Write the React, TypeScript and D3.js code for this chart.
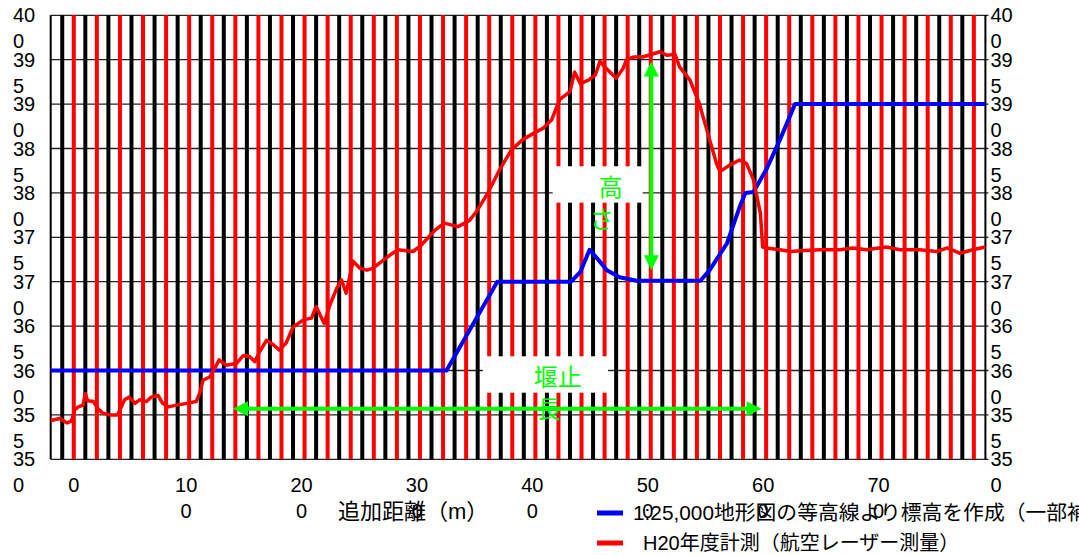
import * as d3 from 'd3';

const W = 1079;
const H = 555;

// axis ticks
const yTickValues = [350, 355, 360, 365, 370, 375, 380, 385, 390, 395, 400];
const xTickValues = [0, 100, 200, 300, 400, 500, 600, 700];

// 1:25,000 contour profile (distance m, elevation m)
const contourDist = [-20, 323, 367, 431, 439, 447, 455, 462, 473, 488, 543, 551, 566, 577, 582, 589, 600, 612, 625, 790];
const contourElev = [360, 360, 370, 370, 371.1, 373.6, 372.4, 371.3, 370.5, 370.1, 370.1, 371.3, 374.3, 378.4, 380, 380.1, 382.6, 386, 390, 390];

// H20 laser survey profile (distance m, elevation m)
const laserDist = [
  -19, -12, -6, -2, 1, 4, 8, 10, 12, 17, 21, 25, 31, 38, 44, 48, 53, 57, 63, 67,
  73, 77, 82, 89, 98, 106, 109, 112, 118, 122, 126, 132, 141, 147, 152, 157, 161, 167, 173, 178,
  184, 190, 199, 206, 210, 217, 222, 228, 232, 236, 242, 248, 254, 259, 265, 274, 281, 294, 301, 313,
  321, 333, 343, 349, 358, 369, 379, 389, 401, 407, 414, 421, 430, 434, 439, 446, 452, 456, 460, 470,
  476, 479, 485, 493, 508, 514, 521, 525, 534, 542, 551, 557, 560, 568, 577, 583, 589, 595, 597, 600,
  612, 621, 633, 647, 664, 675, 687, 704, 716, 733, 748, 757, 768, 779, 790,
];
const laserElev = [
  354.4, 354.6, 354.1, 354.3, 355.6, 355.9, 356.1, 357.4, 356.6, 356.5, 355.7, 355.2, 355.0, 355.0, 356.7, 357.0, 356.3, 356.7, 356.5, 357.0,
  357.2, 356.3, 355.9, 356.1, 356.3, 356.5, 357.4, 358.9, 359.3, 360.2, 361.2, 360.6, 360.8, 361.7, 361.6, 361.0, 362.1, 363.4, 362.9, 362.3,
  363.1, 364.9, 365.7, 365.9, 367.2, 365.3, 367.4, 369.3, 370.2, 368.7, 372.3, 371.5, 371.3, 371.5, 372.1, 373.0, 373.6, 373.4, 374.1, 375.8,
  376.6, 376.2, 376.9, 377.9, 379.8, 382.6, 384.8, 386.0, 386.9, 387.3, 388.2, 390.5, 391.4, 393.6, 392.3, 392.7, 393.3, 394.8, 394.2, 392.9,
  394.0, 395.0, 395.3, 395.3, 395.9, 395.5, 395.6, 394.2, 392.7, 390.1, 386.0, 383.3, 382.4, 383.1, 383.7, 383.3, 381.5, 377.7, 373.9, 373.8,
  373.6, 373.4, 373.5, 373.6, 373.6, 373.8, 373.6, 373.9, 373.6, 373.6, 373.4, 373.8, 373.2, 373.6, 373.9,
];

const seriesNames = ['1:25,000地形図の等高線より標高を作成（一部補正）', 'H20年度計測（航空レーザー測量）'];
const seriesColors = ['#0000ff', '#ff0000'];
const legendFontSizes = [20.8, 20];

// annotations
const damLength = { from: 138, to: 596, elev: 355.7 };
const damHeight = { dist: 500.5, low: 371.3, high: 394.8 };
const noteBoxes = [
  { d0: 415, d1: 493, e0: 383, e1: 378.9, lines: ['高', 'さ'], dx: [46, 37] },
  { d0: 354.5, d1: 463, e0: 361.6, e1: 357.5, lines: ['堰止', '長'], dx: [51, 54] },
];

const FONT = "'Liberation Sans', Arial, 'Noto Sans CJK JP', sans-serif";
const GREEN = '#00ff00';

const splitLabel = (v: number) => {
  const s = String(v);
  return s.length > 2 ? [s.slice(0, 2), s.slice(2)] : [s];
};

// arrow head polygon, tip at (tx,ty), pointing along (ux,uy)
const head = (tx: number, ty: number, ux: number, uy: number) => {
  const len = 15;
  const half = 7.5;
  const bx = tx - ux * len;
  const by = ty - uy * len;
  return `${tx},${ty} ${bx - uy * half},${by + ux * half} ${bx + uy * half},${by - ux * half}`;
};

export default function App() {
  const x = d3.scaleLinear().domain([-20, 790]).range([50.7, 985.4]);
  const y = d3.scaleLinear().domain([350, 400]).range([459.3, 15.3]);
  const [left, right] = x.range();
  const [bottom, top] = y.range();

  const blackBars = d3.range(-10, 780, 20);
  const redBars = d3.range(0, 790, 20);

  const line = d3
    .line<[number, number]>()
    .x((d) => x(d[0]))
    .y((d) => y(d[1]));
  const contour = contourDist.map((d, i) => [d, contourElev[i]] as [number, number]);
  const laser = laserDist.map((d, i) => [d, laserElev[i]] as [number, number]);

  const hy = y(damLength.elev);
  const hx0 = x(damLength.from);
  const hx1 = x(damLength.to);
  const vx = x(damHeight.dist);
  const vy0 = y(damHeight.high);
  const vy1 = y(damHeight.low);

  return (
    <svg
      width={W}
      height={H}
      style={{ position: 'fixed', left: 0, top: 0, background: '#fff' }}
      fontFamily={FONT}
    >
      <defs>
        <clipPath id="plot">
          <rect x={left} y={top} width={right - left} height={bottom - top} />
        </clipPath>
      </defs>

      {/* horizontal grid */}
      <g stroke="#222" strokeWidth={1.3}>
        {yTickValues.map((v) => (
          <line key={v} x1={left} x2={right + 3} y1={y(v)} y2={y(v)} />
        ))}
      </g>

      {/* vertical bars */}
      <g strokeWidth={4}>
        {blackBars.map((v) => (
          <line key={'k' + v} x1={x(v)} x2={x(v)} y1={top} y2={bottom} stroke="#000" />
        ))}
        {redBars.map((v) => (
          <line key={'r' + v} x1={x(v)} x2={x(v)} y1={top} y2={bottom} stroke="#ff0000" />
        ))}
      </g>

      {/* axes */}
      <line x1={left} x2={left} y1={top} y2={bottom} stroke="#000" strokeWidth={2} />
      <line x1={right} x2={right} y1={top} y2={bottom} stroke="#000" strokeWidth={2} />

      {/* series */}
      <g clipPath="url(#plot)" fill="none" strokeLinejoin="round" strokeLinecap="round">
        <path d={line(contour) ?? ''} stroke={seriesColors[0]} strokeWidth={4} />
        <path d={line(laser) ?? ''} stroke={seriesColors[1]} strokeWidth={3.5} />
      </g>

      {/* annotation boxes */}
      {noteBoxes.map((b, i) => {
        const bx = x(b.d0);
        const by = y(b.e0);
        return (
          <g key={i}>
            <rect x={bx} y={by} width={x(b.d1) - bx} height={y(b.e1) - by} fill="#fff" />
            {b.lines.map((t, j) => (
              <text key={j} x={bx + b.dx[j]} y={by + 30 + j * 32} fontSize={24} fill={GREEN}>
                {t}
              </text>
            ))}
          </g>
        );
      })}

      {/* arrows */}
      <g fill={GREEN} stroke={GREEN}>
        <line x1={hx0 + 12} x2={hx1 - 12} y1={hy} y2={hy} strokeWidth={4} />
        <polygon points={head(hx0, hy, -1, 0)} stroke="none" />
        <polygon points={head(hx1, hy, 1, 0)} stroke="none" />
        <line x1={vx} x2={vx} y1={vy0 + 12} y2={vy1 - 12} strokeWidth={4} />
        <polygon points={head(vx, vy0, 0, -1)} stroke="none" />
        <polygon points={head(vx, vy1, 0, 1)} stroke="none" />
      </g>

      {/* y tick labels, both sides */}
      <g fontSize={20} fill="#000">
        {yTickValues.map((v) =>
          splitLabel(v).map((t, j) => (
            <g key={v + '-' + j}>
              <text x={13} y={y(v) + 7 + j * 26}>{t}</text>
              <text x={right + 5} y={y(v) + 7 + j * 26}>{t}</text>
            </g>
          ))
        )}
      </g>

      {/* x tick labels */}
      <g fontSize={20} fill="#000" textAnchor="middle">
        {xTickValues.map((v) =>
          splitLabel(v).map((t, j) => (
            <text key={v + '-' + j} x={x(v) - (v ? 3 : 0)} y={492 + j * 26}>
              {t}
            </text>
          ))
        )}
      </g>

      {/* x axis title */}
      <text x={338} y={519} fontSize={22} fill="#000">
        追加距離（m）
      </text>

      {/* legend */}
      <g fill="#000">
        {seriesNames.map((n, i) => (
          <g key={n}>
            <line x1={597} x2={623} y1={513 + i * 30} y2={513 + i * 30} stroke={seriesColors[i]} strokeWidth={5} />
            <text x={633 + i * 10} y={520 + i * 30} fontSize={legendFontSizes[i]}>
              {n}
            </text>
          </g>
        ))}
      </g>
    </svg>
  );
}
